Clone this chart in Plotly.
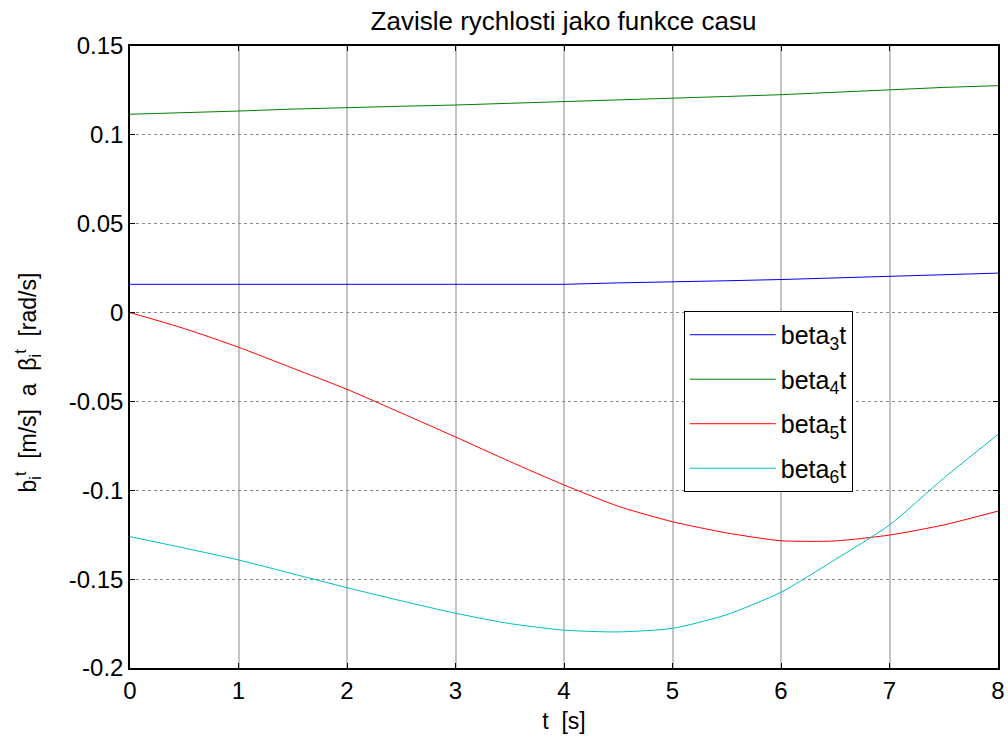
import plotly.graph_objects as go

# time samples [s]
t = [0, 0.5, 1, 1.5, 2, 2.5, 3, 3.5, 4, 4.5, 5, 5.5, 6, 6.5, 7, 7.5, 8]

beta3 = [0.0159, 0.0159, 0.0159, 0.0159, 0.0159, 0.0159, 0.0159, 0.0159, 0.0159,
         0.0167, 0.0171, 0.0179, 0.0186, 0.0196, 0.0205, 0.0215, 0.0222]
beta4 = [0.1116, 0.1124, 0.1134, 0.1145, 0.1155, 0.1161, 0.1168, 0.1177, 0.1185,
         0.1195, 0.1206, 0.1216, 0.1226, 0.1240, 0.1257, 0.1267, 0.1277]
beta5 = [0.0, -0.0090, -0.0195, -0.0313, -0.0432, -0.0565, -0.0700, -0.0838, -0.0970,
         -0.1090, -0.1177, -0.1240, -0.1284, -0.1285, -0.1252, -0.1195, -0.1117]
beta6 = [-0.1261, -0.1325, -0.1392, -0.1470, -0.1548, -0.1622, -0.1692, -0.1750, -0.1787,
         -0.1797, -0.1777, -0.1700, -0.1574, -0.1390, -0.1195, -0.0932, -0.0686]

series_names = ["beta<sub>3</sub>t", "beta<sub>4</sub>t", "beta<sub>5</sub>t", "beta<sub>6</sub>t"]
series_colors = ["#0000ff", "#008000", "#ff0000", "#00bfbf"]
series_shapes = ["linear", "linear", "spline", "spline"]

x_ticks = [0, 1, 2, 3, 4, 5, 6, 7, 8]
y_ticks = [0.15, 0.1, 0.05, 0, -0.05, -0.1, -0.15, -0.2]
y_ticktext = ["0.15", "0.1", "0.05", "0", "-0.05", "-0.1", "-0.15", "-0.2"]

FONT = "Liberation Sans, Arial, sans-serif"

fig = go.Figure()
for i, (ys, name, col, shp) in enumerate(zip([beta3, beta4, beta5, beta6], series_names,
                                             series_colors, series_shapes)):
    fig.add_trace(go.Scatter(x=t, y=ys, mode="lines", name=name,
                             line=dict(color=col, width=1, shape=shp, smoothing=0.6),
                             legendgroup=f"g{i}"))

fig.update_layout(
    width=1008, height=738,
    margin=dict(l=130, r=10, t=46, b=70, autoexpand=False),
    paper_bgcolor="white", plot_bgcolor="white",
    font=dict(family=FONT, color="black", size=24),
    title=dict(text="Zavisle rychlosti jako funkce casu", x=0.559, xanchor="center",
               y=0.972, yanchor="middle", font=dict(size=26, family=FONT)),
    showlegend=True,
    legend=dict(x=0.638, y=0.574, xanchor="left", yanchor="top",
                bgcolor="white", bordercolor="black", borderwidth=1,
                font=dict(size=25, family=FONT), tracegroupgap=9,
                itemwidth=86),
)

fig.update_xaxes(range=[0, 8], tickvals=x_ticks, ticks="inside", ticklen=5, tickcolor="black",
                 showline=True, linecolor="black", linewidth=1.5, mirror="ticks",
                 showgrid=True, gridcolor="#c4c4c4", gridwidth=1.5, zeroline=False,
                 tickfont=dict(size=24), automargin=False,
                 title=dict(text="t  [s]", font=dict(size=23), standoff=10))
fig.update_yaxes(range=[-0.2, 0.15], tickvals=y_ticks, ticktext=y_ticktext, ticks="inside",
                 ticklen=5, tickcolor="black", automargin=False,
                 showline=True, linecolor="black", linewidth=1.5, mirror="ticks",
                 showgrid=True, gridcolor="#8a8a8a", gridwidth=1, griddash="dot", zeroline=False,
                 tickfont=dict(size=24),
                 title=dict(text="b<sub>i</sub><sup>t</sup>  [m/s]  a  β<sub>i</sub><sup>t</sup>  [rad/s]"
                                 + "&nbsp;" * 8,
                            font=dict(size=23), standoff=26))

fig.write_html("out.html")
